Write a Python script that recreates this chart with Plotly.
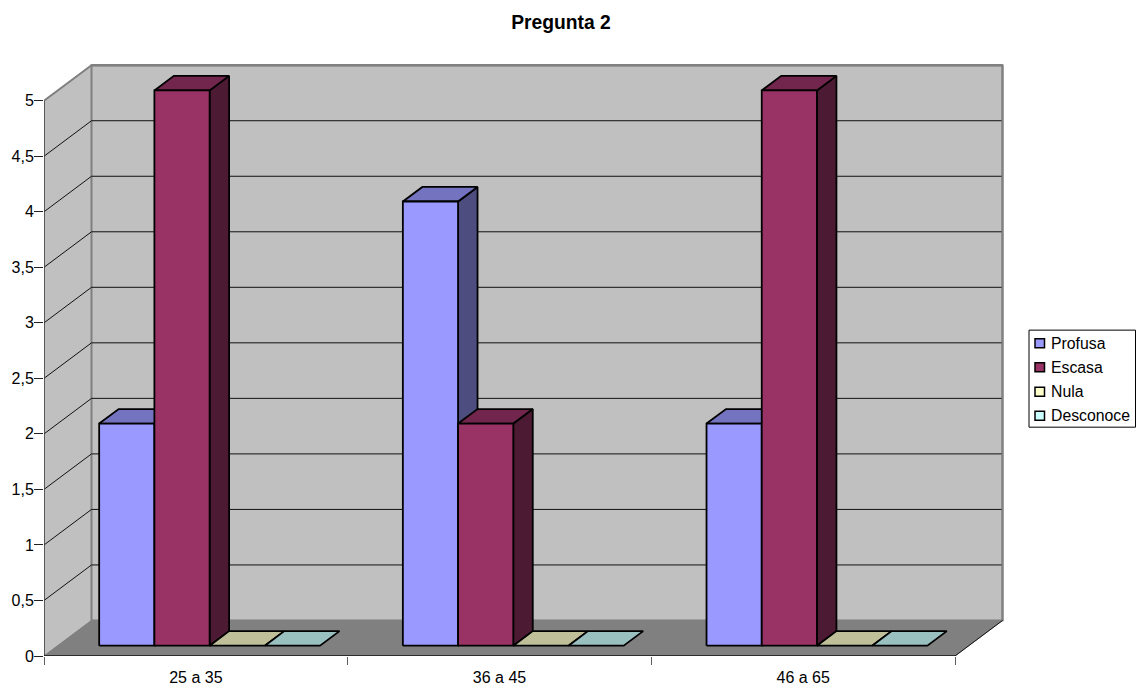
import plotly.graph_objects as go

categories = ["25 a 35", "36 a 45", "46 a 65"]
series_names = ["Profusa", "Escasa", "Nula", "Desconoce"]
profusa = [2, 4, 2]
escasa = [5, 2, 5]
nula = [0, 0, 0]
desconoce = [0, 0, 0]
series_values = [profusa, escasa, nula, desconoce]
y_ticks = [0, 0.5, 1, 1.5, 2, 2.5, 3, 3.5, 4, 4.5, 5]
y_tick_labels = ["0", "0,5", "1", "1,5", "2", "2,5", "3", "3,5", "4", "4,5", "5"]

front_colors = ["#9999FF", "#993366", "#FFFFCC", "#CCFFFF"]
top_colors = ["#7373BF", "#73264D", "#BFBF99", "#99BFBF"]
side_colors = ["#4D4D80", "#4D1A33", "#808066", "#668080"]

W, H = 1137, 688
L, R, T, B = 44, 1010, 60, 655.7
CAT_PX, VAL_PX = 303.67, 111.0
DX, DY = 47.5 / CAT_PX, 35.5 / VAL_PX      # full chart depth in data units
N_CAT, Y_MAX = len(categories), max(y_ticks)
GAP = 1.5
BAR_W = 1 / (len(series_names) + GAP)
D0, D1 = 0.29, 0.70                        # bar depth range

fig = go.Figure()


def poly(xs, ys, fill, line="black", width=1.8):
    fig.add_trace(go.Scatter(x=xs, y=ys, mode="lines", fill="toself", fillcolor=fill,
                             line=dict(color=line, width=width), showlegend=False,
                             hoverinfo="skip", cliponaxis=False))


def line(xs, ys, color="black", width=1.0):
    fig.add_trace(go.Scatter(x=xs, y=ys, mode="lines", line=dict(color=color, width=width),
                             showlegend=False, hoverinfo="skip", cliponaxis=False,
                             connectgaps=False))


# walls and floor
poly([0, DX, DX, 0, 0], [0, DY, Y_MAX + DY, Y_MAX, 0], "#C0C0C0", "#808080", 1)
poly([DX, N_CAT + DX, N_CAT + DX, DX, DX], [DY, DY, Y_MAX + DY, Y_MAX + DY, DY], "#C0C0C0", "#808080", 2)
poly([0, N_CAT, N_CAT + DX, DX, 0], [0, 0, DY, DY, 0], "#808080", "#808080", 1)

# gridlines on side and back wall
for v in y_ticks[1:-1]:
    line([0, DX, N_CAT + DX], [v, v + DY, v + DY], "#111111", 1)
line([0, DX], [Y_MAX, Y_MAX + DY], "#808080", 2)
line([DX, N_CAT + DX], [Y_MAX + DY, Y_MAX + DY], "#808080", 2.5)
line([N_CAT + DX, N_CAT + DX], [DY, Y_MAX + DY], "#808080", 2)

# bars
dx0, dx1, dy0, dy1 = D0 * DX, D1 * DX, D0 * DY, D1 * DY
for c in range(N_CAT):
    for s, vals in enumerate(series_values):
        v = vals[c]
        x0 = c + (GAP / 2 + s) * BAR_W + dx0
        x1 = x0 + BAR_W
        y0 = dy0
        y1 = v + dy0
        ddx, ddy = dx1 - dx0, dy1 - dy0
        if v > 0:
            poly([x1, x1 + ddx, x1 + ddx, x1, x1], [y0, y0 + ddy, y1 + ddy, y1, y0], side_colors[s])
        poly([x0, x1, x1 + ddx, x0 + ddx, x0], [y1, y1, y1 + ddy, y1 + ddy, y1], top_colors[s])
        if v > 0:
            poly([x0, x1, x1, x0, x0], [y0, y0, y1, y1, y0], front_colors[s])

# axes and front edges
line([0, 0], [0, Y_MAX], "#404040", 1.5)
line([0, N_CAT], [0, 0], "#111111", 1.5)
line([N_CAT, N_CAT + DX], [0, DY], "#111111", 1)

fig.update_xaxes(range=[0, (R - L) / CAT_PX], showgrid=False, zeroline=False, showline=False,
                 automargin=False,
                 tickmode="array", tickvals=[i + 0.5 for i in range(N_CAT)], ticktext=categories,
                 ticks="", tickfont=dict(family="Liberation Sans", size=16, color="black"),
                 ticklabelstandoff=10,
                 minor=dict(tickmode="array", tickvals=list(range(N_CAT + 1)), ticks="outside",
                            ticklen=8, tickcolor="#606060", tickwidth=1, showgrid=False))
fig.update_yaxes(range=[0, (B - T) / VAL_PX], showgrid=False, zeroline=False, showline=False,
                 automargin=False,
                 tickmode="array", tickvals=y_ticks, ticktext=y_tick_labels, ticks="outside",
                 ticklen=9, tickcolor="#222222", tickwidth=1, ticklabelstandoff=-3,
                 tickfont=dict(family="Liberation Sans", size=16, color="black"))


def px(x):
    return (x - L) / (R - L)


def py(y):
    return (B - y) / (B - T)


shapes = [dict(type="rect", xref="paper", yref="paper", x0=px(1029), x1=px(1135.5), y0=py(427), y1=py(330),
               line=dict(color="black", width=1), fillcolor="white")]
annotations = []
legend_y = [343, 367, 391.5, 415.5]
for name, col, ly in zip(series_names, front_colors, legend_y):
    shapes.append(dict(type="rect", xref="paper", yref="paper", x0=px(1035), x1=px(1044.5),
                       y0=py(ly + 4.5), y1=py(ly - 4.5), fillcolor=col, line=dict(color="black", width=1.5)))
    annotations.append(dict(xref="paper", yref="paper", x=px(1048.5), y=py(ly), text=name, showarrow=False,
                            xanchor="left", yanchor="middle", xshift=0,
                            font=dict(family="Liberation Sans", size=15.8, color="black")))

fig.update_layout(
    width=W, height=H, autosize=False,
    margin=dict(l=L, r=W - R, t=T, b=H - B, pad=0),
    paper_bgcolor="white", plot_bgcolor="white", showlegend=False,
    title=dict(text="<b>Pregunta 2</b>", x=561 / W, xanchor="center", y=1 - 22 / H, yanchor="middle",
               font=dict(family="Liberation Sans", size=19.3, color="black")),
    shapes=shapes, annotations=annotations,
)
fig.write_html("out.html", config={"displayModeBar": False},
               post_script="document.body.style.margin='0';document.documentElement.style.overflow='hidden';")
